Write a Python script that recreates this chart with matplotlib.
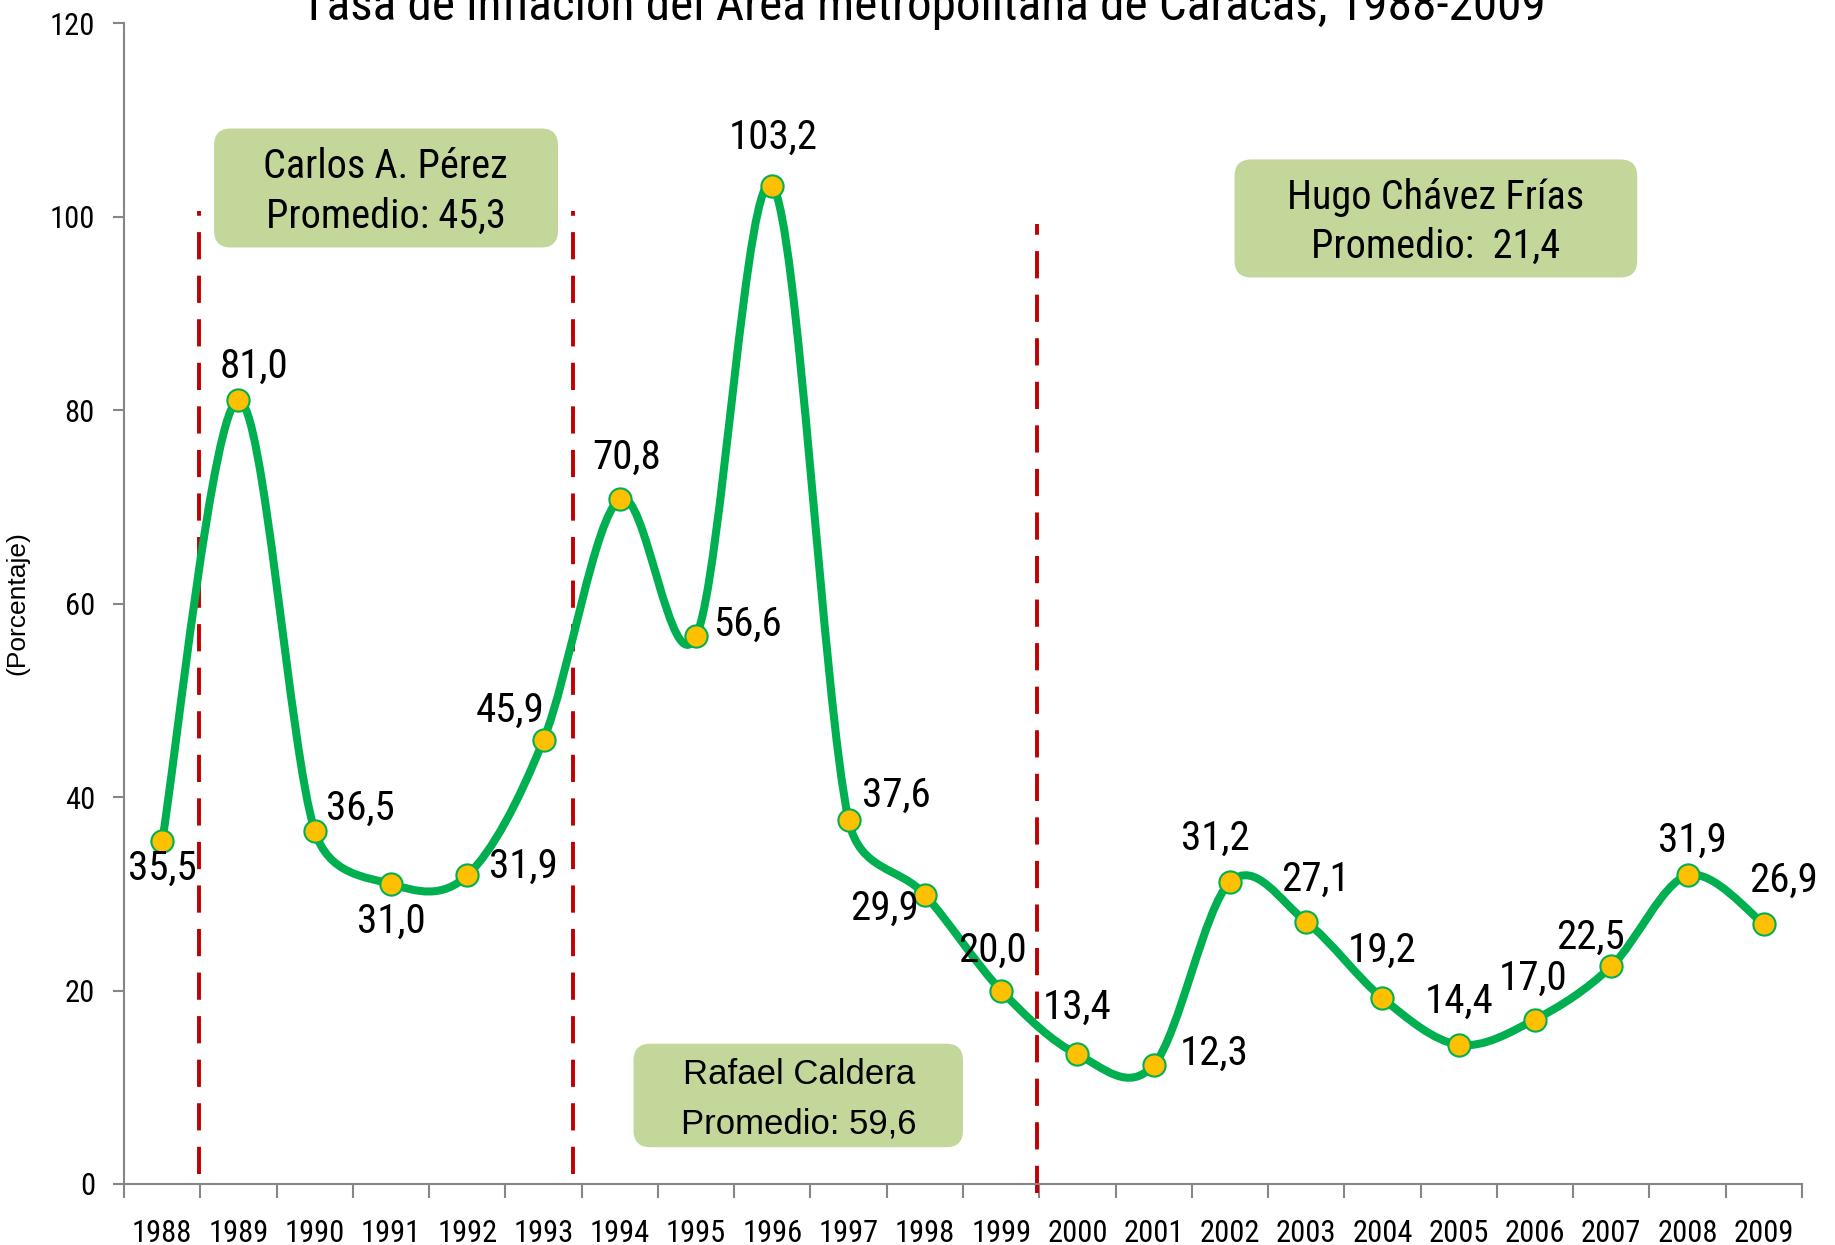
import numpy as np
import matplotlib
matplotlib.use("Agg")
import matplotlib.pyplot as plt
from matplotlib.path import Path
from matplotlib.patches import PathPatch, FancyBboxPatch

NARROW = ['Roboto Condensed', 'DejaVu Sans']
REGULAR = ['Liberation Sans', 'DejaVu Sans']

# Data
years = [str(y) for y in range(1988, 2010)]
inflation = [35.5, 81.0, 36.5, 31.0, 31.9, 45.9, 70.8, 56.6, 103.2, 37.6, 29.9,
             20.0, 13.4, 12.3, 31.2, 27.1, 19.2, 14.4, 17.0, 22.5, 31.9, 26.9]

# Presidential periods (text shown in the boxes)
periods = [("Carlos A. Pérez", "Promedio: 45,3"),
           ("Rafael Caldera", "Promedio: 59,6"),
           ("Hugo Chávez Frías", "Promedio:  21,4")]

# label offsets in pixels (dx, dy)
label_offsets = [(0, -28), (16, 34), (46, 23), (0, -37), (56, 9), (-33, 30),
                 (7, 42), (51, 12), (1, 48), (48, 25), (-40, -14), (-9, 40),
                 (0, 47), (60, 12), (-15, 44), (9, 43), (0, 48), (0, 43),
                 (-2, 41), (-21, 29), (5, 35), (20, 43)]

green = '#00B050'
gold = '#FFC000'
box_green = '#C4D79B'
axis_gray = '#868686'

fig = plt.figure(figsize=(18.35, 12.45), dpi=100)
ax = fig.add_axes([0.0676, 0.049, 0.9144, 0.9325])
ax.set_xlim(-0.5, len(years) - 0.5)
ax.set_ylim(0, 120)

x = np.arange(len(years))
y = np.array(inflation)

# smoothed line, built in screen space like a spreadsheet "smoothed line"
pts = ax.transData.transform(np.column_stack([x, y]))
n = len(pts)


def arm(a, b, seg):
    # control arm along (b - a), length a sixth of it, capped by half the segment
    v = b - a
    L = np.hypot(*v)
    if L == 0:
        return v
    return v / L * min(L / 6, 0.5 * seg)


verts = [pts[0]]
codes = [Path.MOVETO]
for i in range(n - 1):
    p0 = pts[i - 1] if i > 0 else pts[i]
    p1 = pts[i]
    p2 = pts[i + 1]
    p3 = pts[i + 2] if i + 2 < n else pts[i + 1]
    d12 = np.hypot(*(p2 - p1))
    c1 = p1 + arm(p0, p2, d12)
    c2 = p2 - arm(p1, p3, d12)
    verts += [c1, c2, p2]
    codes += [Path.CURVE4] * 3
verts = ax.transData.inverted().transform(np.array(verts))
ax.add_patch(PathPatch(Path(verts, codes), facecolor='none', edgecolor=green,
                       lw=5.8, capstyle='round', joinstyle='round', zorder=3))
ax.plot(x, y, linestyle='none', marker='o', markersize=16,
        markerfacecolor=gold, markeredgecolor=green, markeredgewidth=1.5, zorder=4)

for xi, yi, (dx, dy) in zip(x, y, label_offsets):
    ax.annotate(f"{yi:.1f}".replace('.', ','), (xi, yi), xytext=(dx, dy),
                textcoords='offset pixels', ha='center', va='center',
                fontsize=29.5, family=NARROW, zorder=5)

# period separators
for xs, bottom, top in [(0.48, 1.0, 100.6), (5.38, 1.0, 100.6), (11.47, -0.9, 99.2)]:
    ax.plot([xs, xs], [bottom, top], color='#C00000', lw=2.8,
            dashes=(7.0, 4.2), zorder=2, clip_on=False)

# period boxes
boxes = [((0.68, 96.8), (5.19, 109.1), 2.93, NARROW),
         ((6.18, 3.8), (10.5, 14.5), 8.35, REGULAR),
         ((14.06, 93.7), (19.34, 105.9), 16.7, NARROW)]
for ((x0, y0), (x1, y1), xc, fam), (l1, l2) in zip(boxes, periods):
    ax.add_patch(FancyBboxPatch((x0, y0), x1 - x0, y1 - y0,
                                boxstyle='round,pad=0,rounding_size=0.22',
                                mutation_aspect=7.89, facecolor=box_green,
                                edgecolor='none', zorder=6))
    ym = (y0 + y1) / 2 - 0.35
    fs = 25 if fam is REGULAR else 29
    ax.text(xc, ym + 2.55, l1, ha='center', va='center', fontsize=fs,
            family=fam, zorder=7)
    ax.text(xc, ym - 2.55, l2, ha='center', va='center', fontsize=fs,
            family=fam, zorder=7)

ax.set_yticks(range(0, 121, 20))
ax.set_yticklabels([str(v) for v in range(0, 121, 20)], family=NARROW, fontsize=22)
ax.set_xticks(x)
ax.set_xticklabels(years, family=NARROW, fontsize=22)
ax.set_xticks(np.arange(-0.5, len(years), 1.0), minor=True)
ax.tick_params(axis='x', which='major', length=0, pad=25)
ax.tick_params(axis='x', which='minor', length=10, width=1.5, color=axis_gray, direction='out')
ax.tick_params(axis='y', length=8, width=1.5, color=axis_gray, pad=13)

for s in ['top', 'right']:
    ax.spines[s].set_visible(False)
for s in ['left', 'bottom']:
    ax.spines[s].set_color(axis_gray)
    ax.spines[s].set_linewidth(1.5)

ax.set_ylabel('(Porcentaje)', family=REGULAR, fontsize=19)
ax.yaxis.set_label_coords(-0.0566, 0.5)

fig.text(0.5 + 0.003, 1 - 20 / 1245,
         'Tasa de inflación del Área metropolitana de Caracas, 1988-2009',
         ha='center', va='baseline', fontsize=35.5, family=NARROW)

fig.savefig('out.png', dpi=100)
